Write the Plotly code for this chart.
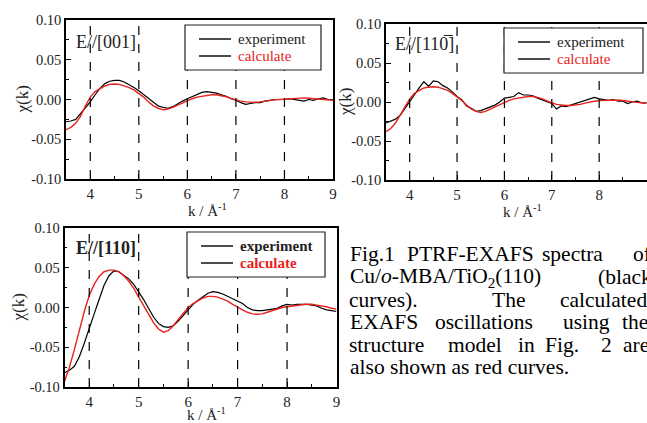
import plotly.graph_objects as go

# ---------------- data ----------------
k = [round(3.5 + 0.1 * i, 1) for i in range(56)]

exp_001 = [-0.028, -0.027, -0.025, -0.018, -0.010, -0.003, 0.006, 0.014, 0.020, 0.023,
           0.024, 0.024, 0.022, 0.019, 0.015, 0.011, 0.006, 0.001, -0.004, -0.008,
           -0.010, -0.011, -0.009, -0.005, -0.002, 0.001, 0.004, 0.006, 0.009, 0.010,
           0.009, 0.008, 0.006, 0.004, 0.001, -0.001, -0.004, -0.006, -0.005, -0.004,
           -0.004, -0.002, -0.001, 0.000, 0.000, 0.000, 0.001, 0.000, -0.001, -0.002,
           0.000, -0.001, 0.001, 0.002, 0.000, 0.000]
calc_001 = [-0.038, -0.035, -0.030, -0.021, -0.008, 0.003, 0.010, 0.014, 0.017, 0.019,
            0.0195, 0.019, 0.017, 0.015, 0.012, 0.008, 0.003, -0.003, -0.008, -0.011,
            -0.013, -0.012, -0.010, -0.007, -0.004, -0.0015, 0.001, 0.003, 0.004, 0.005,
            0.006, 0.006, 0.005, 0.0035, 0.0015, -0.0005, -0.002, -0.003, -0.0035, -0.0035,
            -0.003, -0.002, -0.0015, -0.0005, 0.000, 0.0005, 0.001, 0.0015, 0.002, 0.002,
            0.0015, 0.001, 0.0005, 0.000, -0.0005, -0.001]

exp_110b = [-0.027, -0.025, -0.022, -0.017, -0.008, 0.000, 0.010, 0.018, 0.026, 0.020,
            0.027, 0.026, 0.021, 0.018, 0.013, 0.007, 0.003, -0.005, -0.008, -0.012,
            -0.011, -0.009, -0.006, -0.004, 0.000, 0.005, 0.006, 0.007, 0.012, 0.009,
            0.009, 0.008, 0.005, 0.003, 0.001, -0.002, -0.009, -0.005, -0.006, -0.004,
            -0.002, 0.000, 0.001, 0.003, 0.006, 0.004, 0.003, 0.002, 0.003, 0.001,
            0.001, -0.002, 0.000, 0.001, -0.001, -0.001]
calc_110b = [-0.038, -0.034, -0.027, -0.017, -0.006, 0.004, 0.011, 0.015, 0.018, 0.019,
             0.0195, 0.019, 0.017, 0.015, 0.011, 0.007, 0.002, -0.004, -0.009, -0.012,
             -0.0135, -0.012, -0.009, -0.006, -0.003, -0.0005, 0.002, 0.004, 0.005, 0.006,
             0.007, 0.007, 0.006, 0.004, 0.001, -0.001, -0.003, -0.004, -0.0045, -0.0045,
             -0.004, -0.003, -0.0015, 0.000, 0.001, 0.0017, 0.002, 0.0025, 0.0025, 0.0025,
             0.002, 0.001, 0.000, -0.0005, -0.001, -0.0015]

exp_110 = [-0.082, -0.079, -0.074, -0.062, -0.045, -0.025, -0.008, 0.010, 0.028, 0.040,
           0.046, 0.045, 0.041, 0.036, 0.029, 0.020, 0.010, -0.001, -0.012, -0.020,
           -0.024, -0.025, -0.023, -0.017, -0.010, -0.003, 0.004, 0.009, 0.014, 0.018,
           0.020, 0.019, 0.017, 0.014, 0.012, 0.009, 0.005, 0.000, -0.003, -0.004,
           -0.004, -0.003, -0.002, -0.001, 0.002, 0.004, 0.003, 0.004, 0.004, 0.004,
           0.003, 0.002, -0.001, -0.003, -0.004, -0.005]
calc_110 = [-0.093, -0.075, -0.053, -0.028, -0.005, 0.015, 0.029, 0.039, 0.045, 0.047,
            0.047, 0.045, 0.040, 0.033, 0.024, 0.013, 0.002, -0.009, -0.019, -0.027,
            -0.031, -0.029, -0.023, -0.015, -0.007, 0.000, 0.005, 0.009, 0.012, 0.014,
            0.014, 0.013, 0.011, 0.008, 0.004, 0.000, -0.003, -0.006, -0.008, -0.0085,
            -0.008, -0.006, -0.004, -0.002, 0.000, 0.001, 0.002, 0.003, 0.0035, 0.004,
            0.004, 0.003, 0.002, 0.001, -0.001, -0.002]

x_tick_vals = [4, 5, 6, 7, 8, 9]
y_tick_vals = [-0.10, -0.05, 0.00, 0.05, 0.10]
y_tick_text = ["-0.10", "-0.05", "0.00", "0.05", "0.10"]
ref_lines = [4, 5, 6, 7, 8]

panel_labels = ["E//[001]", "E//[110\u0305]", "<b>E//[110]</b>"]
legend_names = ["experiment", "calculate"]

caption_lines = [
    [(349, "Fig.1"), (406, "PTRF-EXAFS"), (541, "spectra"), (632, "of")],
    [(349, "Cu/<i>o</i>-MBA/TiO<sub>2</sub>(110)"), (597, "(black")],
    [(348, "curves)."), (491, "The"), (559, "calculated")],
    [(349, "EXAFS"), (434, "oscillations"), (562, "using"), (621, "the")],
    [(348, "structure"), (447, "model"), (517, "in"), (544, "Fig."), (600, "2"), (622, "are")],
    [(349, "also shown as red curves.")],
]
caption_centers = [253.5, 277, 299.5, 322, 344.5, 367]

# ---------------- layout helpers ----------------
W, H = 647, 423
def px(x):
    return x / W
def py(y):
    return 1 - y / H

FONT = "Liberation Serif"

# plot rectangles in pixels: (left, top, right, bottom)
rects = [(66, 20, 333, 179), (386, 24, 647, 180), (64.5, 228, 336.5, 387)]
x_ranges = [[3.5, 9], [3.5, 9.01], [3.5, 9]]
series = [(exp_001, calc_001), (exp_110b, calc_110b), (exp_110, calc_110)]
legend_boxes = [(185, 25, 321, 70), (504, 28, 643, 73), (187, 232, 325, 277)]
label_pos = [(74, 42), (393, 44), (74, 248)]
ytitle_x = [22, 345, 18]
xtitle_pos = [(207, 210), (522, 211), (206, 414)]

fig = go.Figure()
layout = dict(
    width=W, height=H, margin=dict(l=0, r=0, t=0, b=0, pad=0, autoexpand=False),
    paper_bgcolor="white", plot_bgcolor="white", showlegend=False,
    font=dict(family=FONT, color="#222"),
)
shapes = []
annotations = []

for i, ((l, t, r, b), (ex, ca)) in enumerate(zip(rects, series)):
    n = "" if i == 0 else str(i + 1)
    xa, ya = "x" + n, "y" + n
    fig.add_trace(go.Scatter(x=k, y=ex, mode="lines", line=dict(color="black", width=1.2),
                             xaxis=xa, yaxis=ya, name=legend_names[0]))
    fig.add_trace(go.Scatter(x=k, y=ca, mode="lines", line=dict(color="#e8221c", width=1.4),
                             xaxis=xa, yaxis=ya, name=legend_names[1]))
    layout["xaxis" + n] = dict(
        domain=[px(l), px(r)], anchor=ya, range=x_ranges[i], tickvals=x_tick_vals,
        ticks="inside", ticklen=5, tickwidth=1, tickcolor="black", automargin=False,
        minor=dict(dtick=0.5, ticks="inside", ticklen=3, tickcolor="black"),
        showline=True, linecolor="black", linewidth=1.5, mirror=True,
        showgrid=False, zeroline=False, tickfont=dict(family=FONT, size=15, color="#222"),
    )
    layout["yaxis" + n] = dict(
        domain=[py(b), py(t)], anchor=xa, range=[-0.1, 0.1],
        tickvals=y_tick_vals, ticktext=y_tick_text, automargin=False,
        ticks="inside", ticklen=5, tickwidth=1, tickcolor="black",
        minor=dict(dtick=0.025, ticks="inside", ticklen=3, tickcolor="black"),
        showline=True, linecolor="black", linewidth=1.5, mirror=True,
        showgrid=False, zeroline=False, tickfont=dict(family=FONT, size=14.5, color="#222"),
    )
    for v in ref_lines:
        shapes.append(dict(type="line", xref=xa, yref=ya + " domain", x0=v, x1=v, y0=0, y1=1,
                           line=dict(color="black", width=1.2, dash="dash")))
    # axis titles
    annotations.append(dict(text="\u03c7(k)", textangle=-90, xref="paper", yref="paper",
                            x=px(ytitle_x[i]), y=py((t + b) / 2), xanchor="center", yanchor="middle",
                            showarrow=False, font=dict(family=FONT, size=17, color="#222")))
    tx, ty = xtitle_pos[i]
    annotations.append(dict(text="k / \u00c5<sup>-1</sup>", xref="paper", yref="paper",
                            x=px(tx), y=py(ty), xanchor="center", yanchor="middle", showarrow=False,
                            font=dict(family=FONT, size=15, color="#222")))
    # panel label
    lx, ly = label_pos[i]
    annotations.append(dict(text=panel_labels[i], xref="paper", yref="paper", x=px(lx), y=py(ly),
                            xanchor="left", yanchor="middle", showarrow=False,
                            font=dict(family=FONT, size=18, color="#222")))
    # legend box
    bl, bt, br, bb = legend_boxes[i]
    shapes.append(dict(type="rect", xref="paper", yref="paper", x0=px(bl), x1=px(br),
                       y0=py(bb), y1=py(bt), line=dict(color="#222", width=1.2),
                       fillcolor="white", layer="above"))
    bold = i == 2
    for j, (nm, col) in enumerate(zip(legend_names, ["#222", "#e8221c"])):
        yy = bt + 14 + j * 17
        shapes.append(dict(type="line", xref="paper", yref="paper", x0=px(bl + 14), x1=px(bl + 46),
                           y0=py(yy), y1=py(yy), line=dict(color="black", width=1.4)))
        annotations.append(dict(text=("<b>%s</b>" % nm) if bold else nm, xref="paper", yref="paper",
                                x=px(bl + 51), y=py(yy), xanchor="left", yanchor="middle",
                                showarrow=False, font=dict(family=FONT, size=15, color=col)))

# caption
for line, cy in zip(caption_lines, caption_centers):
    for x0, word in line:
        annotations.append(dict(text=word, xref="paper", yref="paper", x=px(x0), y=py(cy),
                                xanchor="left", yanchor="middle", showarrow=False, borderpad=0,
                                font=dict(family=FONT, size=21.5, color="black")))

layout["shapes"] = shapes
layout["annotations"] = annotations
fig.update_layout(**layout)
fig.write_html("out.html", config={"displayModeBar": False},
               post_script="document.body.style.margin='0';document.body.style.overflow='hidden';")
